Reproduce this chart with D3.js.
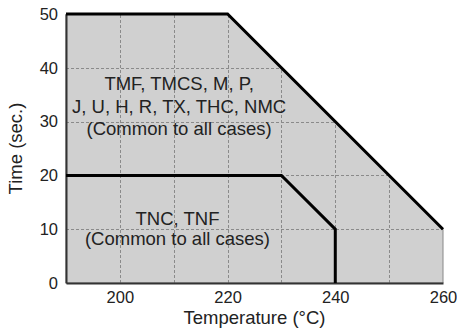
<!DOCTYPE html>
<html>
<head>
    <meta charset="utf-8">
    <style>
        html, body {
            margin: 0;
            padding: 0;
            background: #fff;
        }

        svg {
            display: block;
            font-family: "Liberation Sans", Arial, sans-serif;
        }
    </style>
</head>
<body>
<div id="chart"></div>

<script src="https://cdn.jsdelivr.net/npm/d3@7"></script>
<script>
    "use strict";

    // soldering limits: [temperature, time]
    const outerLimit = [[190, 50], [220, 50], [260, 10]];
    const innerLimit = [[190, 20], [230, 20], [240, 10], [240, 0]];

    const xTicks = [200, 220, 240, 260];
    const yTicks = [0, 10, 20, 30, 40, 50];
    const xGrid = [200, 210, 220, 230, 240, 250];
    const yGrid = [10, 20, 30, 40];

    const outerLabel = ["TMF, TMCS, M, P,", "J, U, H, R, TX, THC, NMC", "(Common to all cases)"];
    const innerLabel = ["TNC, TNF", "(Common to all cases)"];

    const WIDTH = 457;
    const HEIGHT = 329;

    const x = d3.scaleLinear().domain([190, 260]).range([66, 443]);
    const y = d3.scaleLinear().domain([0, 50]).range([283, 14]);

    const svg = d3.select("#chart").append("svg")
        .attr("width", WIDTH)
        .attr("height", HEIGHT);

    // shaded region under the outer limit
    const area = d3.area()
        .x(function (d) { return x(d[0]); })
        .y0(y(0))
        .y1(function (d) { return y(d[1]); });

    svg.append("clipPath")
        .attr("id", "region-clip")
        .append("path")
        .attr("d", area(outerLimit));

    svg.append("path")
        .attr("d", area(outerLimit))
        .attr("fill", "#d0d0d0")
        .attr("stroke", "#888")
        .attr("stroke-width", 1);

    // dashed grid, only inside the shaded region
    const grid = svg.append("g")
        .attr("clip-path", "url(#region-clip)")
        .attr("stroke", "#8a8a8a")
        .attr("stroke-width", 1)
        .attr("stroke-dasharray", "3,2");

    grid.selectAll("line.vx")
        .data(xGrid)
        .enter()
        .append("line")
        .attr("class", "vx")
        .attr("x1", function (d) { return Math.round(x(d)) + 0.5; })
        .attr("x2", function (d) { return Math.round(x(d)) + 0.5; })
        .attr("y1", y(0))
        .attr("y2", y(50));

    grid.selectAll("line.hy")
        .data(yGrid)
        .enter()
        .append("line")
        .attr("class", "hy")
        .attr("x1", x(190))
        .attr("x2", x(260))
        .attr("y1", function (d) { return Math.round(y(d)) + 0.5; })
        .attr("y2", function (d) { return Math.round(y(d)) + 0.5; });

    // axes
    const xAxis = d3.axisBottom(x)
        .tickValues(xTicks)
        .tickSize(0)
        .tickPadding(8);

    const yAxis = d3.axisLeft(y)
        .tickValues(yTicks)
        .tickSize(0)
        .tickPadding(8);

    const gx = svg.append("g")
        .attr("transform", "translate(0," + y(0) + ")")
        .call(xAxis);

    const gy = svg.append("g")
        .attr("transform", "translate(" + x(190) + ",0)")
        .call(yAxis);

    [gx, gy].forEach(function (g) {
        g.select(".domain")
            .attr("stroke", "#333")
            .attr("stroke-width", 2);
        g.selectAll("text")
            .attr("fill", "#222")
            .style("font-size", "16.5px")
            .style("font-family", "\"Liberation Sans\", Arial, sans-serif");
    });

    // limit lines
    const line = d3.line()
        .x(function (d) { return x(d[0]); })
        .y(function (d) { return y(d[1]); });

    svg.selectAll("path.limit")
        .data([outerLimit, innerLimit])
        .enter()
        .append("path")
        .attr("class", "limit")
        .attr("d", line)
        .attr("fill", "none")
        .attr("stroke", "#000")
        .attr("stroke-width", 3);

    // region labels
    function addLabel(lines, cx, cy, lineHeight) {
        svg.append("text")
            .attr("text-anchor", "middle")
            .attr("fill", "#222")
            .style("font-size", "18.5px")
            .selectAll("tspan")
            .data(lines)
            .enter()
            .append("tspan")
            .attr("x", cx)
            .attr("y", function (d, i) { return cy + i * lineHeight; })
            .text(function (d) { return d; });
    }

    addLabel(outerLabel, x(211.0), 90, 22.5);
    addLabel(innerLabel, x(210.7), 225, 19.5);

    // axis titles
    svg.append("text")
        .attr("x", (x.range()[0] + x.range()[1]) / 2)
        .attr("y", 324)
        .attr("text-anchor", "middle")
        .attr("fill", "#222")
        .style("font-size", "18.5px")
        .text("Temperature (°C)");

    svg.append("text")
        .attr("transform", "translate(22," + (y.range()[0] + y.range()[1]) / 2 + ") rotate(-90)")
        .attr("text-anchor", "middle")
        .attr("fill", "#222")
        .style("font-size", "18.5px")
        .text("Time (sec.)");
</script>
</body>
</html>
